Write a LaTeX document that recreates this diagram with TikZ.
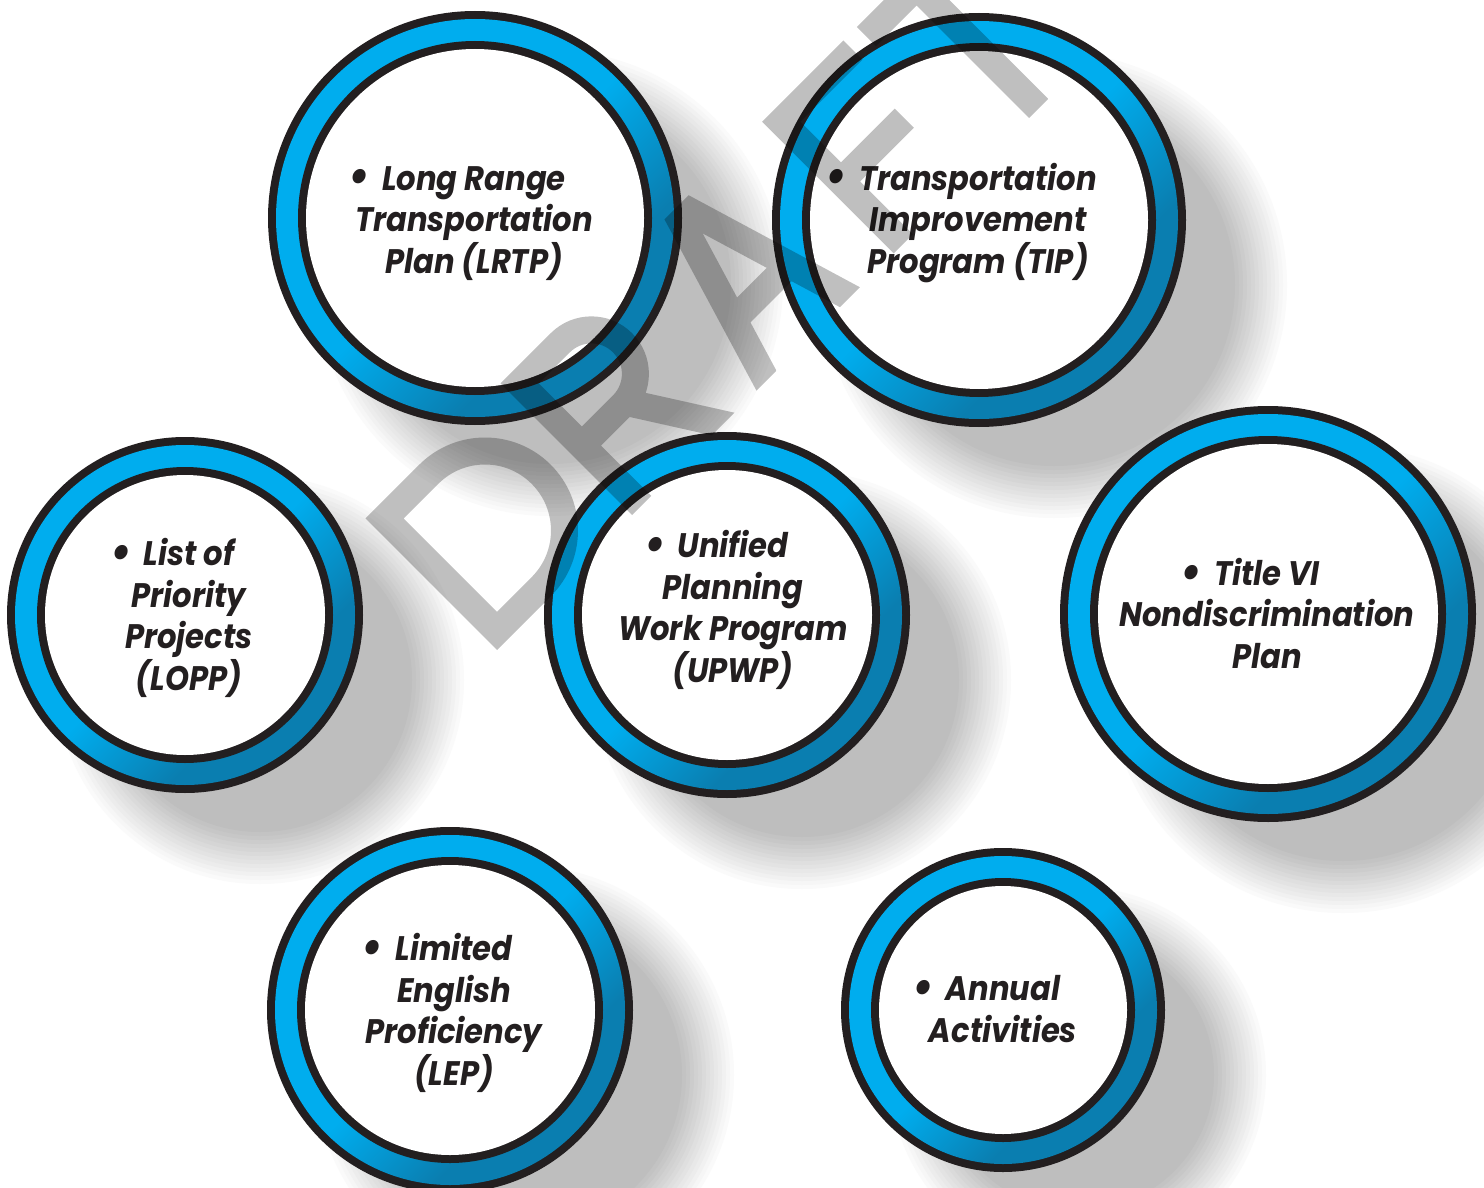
\documentclass[tikz,border=0pt]{standalone}
\usepackage{fontspec}
\usepackage{graphicx}
\newfontfamily\circfont{Poppins}[FakeStretch=0.9]
\definecolor{ringblack}{RGB}{35,31,32}
\definecolor{ringblue}{RGB}{0,173,238}
\definecolor{ringdark}{RGB}{10,126,176}
\definecolor{txt}{RGB}{35,31,32}
\pgfdeclareverticalshading{ringshade}{100bp}{color(0bp)=(ringdark); color(34bp)=(ringdark); color(50bp)=(ringblue); color(100bp)=(ringblue)}
\newcommand\drawring[3]{%
  \fill[ringblack] (#1,#2) circle[radius=#3];
  \shade[shading=ringshade, shading angle=45] (#1,#2) circle[radius=#3-8];
  \fill[ringblack] (#1,#2) circle[radius=#3-30];
  \fill[white] (#1,#2) circle[radius=#3-38];
}
\newcommand\bul{\leavevmode\llap{\raisebox{-1.5pt}{\scalebox{1.4}{\textbullet}}\hspace{6pt}}}
\begin{document}
\begin{tikzpicture}[x=0.5pt,y=-0.5pt,
  circtext/.style={font=\circfont\bfseries\itshape\fontsize{17}{20.75}\selectfont, text=txt, align=center, anchor=base, inner sep=0pt},
  wmark/.style={line width=13.5pt, draw=black, opacity=0.25, line join=miter, miter limit=10, line cap=butt}]
\useasboundingbox (0,0) rectangle (1484,1188);
\clip (0,0) -- (1484,0) -- (1484,1188) -- (0,1188) -- cycle;
\fill[white] (0,0) -- (1484,0) -- (1484,1188) -- (0,1188) -- cycle;
% soft drop shadows
\foreach \k in {1,...,14}{
  \pgfmathsetmacro\pct{25.5*\k/14}
  \pgfmathsetmacro\dr{28-(\k-0.5)*56/14}
  \foreach \cx/\cy/\r in {475/218/207, 979/220/207, 185/615/178, 727/615/183, 1268/614/208, 450/1010/183, 1003/1010/162}{
    \fill[black!\pct] (\cx+75,\cy+65) circle[radius=\r+\dr];
  }
}
% rings
\drawring{475}{218}{207}
\drawring{979}{220}{207}
\drawring{185}{615}{178}
\drawring{727}{615}{183}
\drawring{1268}{614}{208}
\drawring{450}{1010}{183}
\drawring{1003}{1010}{162}
% texts (anchor = baseline of the last line)
\node[circtext] (lrtp) at (474,273) {\bul Long Range\\Transportation\\Plan (LRTP)};
\node[circtext] (tip) at (978,273) {\bul Transportation\\Improvement\\Program (TIP)};
\node[circtext] (lopp) at (189,690) {\bul List of\\Priority\\Projects\\(LOPP)};
\node[circtext] (upwp) at (733,682) {\bul Unified\\Planning\\Work Program\\(UPWP)};
\node[circtext] (title) at (1267,668) {\bul Title VI\\Nondiscrimination\\Plan};
\node[circtext] (lep) at (454,1085) {\bul Limited\\English\\Proficiency\\(LEP)};
\node[circtext] (annual) at (1003,1042) {\bul Annual\\Activities};
% DRAFT watermark
\begin{scope}[shift={(497,650)}, x={(0.353553pt,0.353553pt)}, y={(-0.353553pt,0.353553pt)}]
  \clip (-30,0) -- (870,0) -- (870,186) -- (-30,186) -- cycle;
  \draw[wmark]
    (13.5,13.5) -- (13.5,172.5) -- (76,172.5) arc[start angle=90,end angle=-90,radius=79.5] -- cycle
    (204.5,-10) -- (204.5,172.5) -- (262,172.5) arc[start angle=90,end angle=-90,radius=44] -- (204.5,84.5)
    (266,84.5) -- (326,-10)
    (378,-10) -- (440,196) -- (502,-10)
    (395,66) -- (485,66)
    (676,172.5) -- (574.5,172.5) -- (574.5,-10)
    (574.5,88) -- (664,88)
    (695,172.5) -- (837,172.5)
    (766,172.5) -- (766,-10);
\end{scope}
\end{tikzpicture}
\end{document}
